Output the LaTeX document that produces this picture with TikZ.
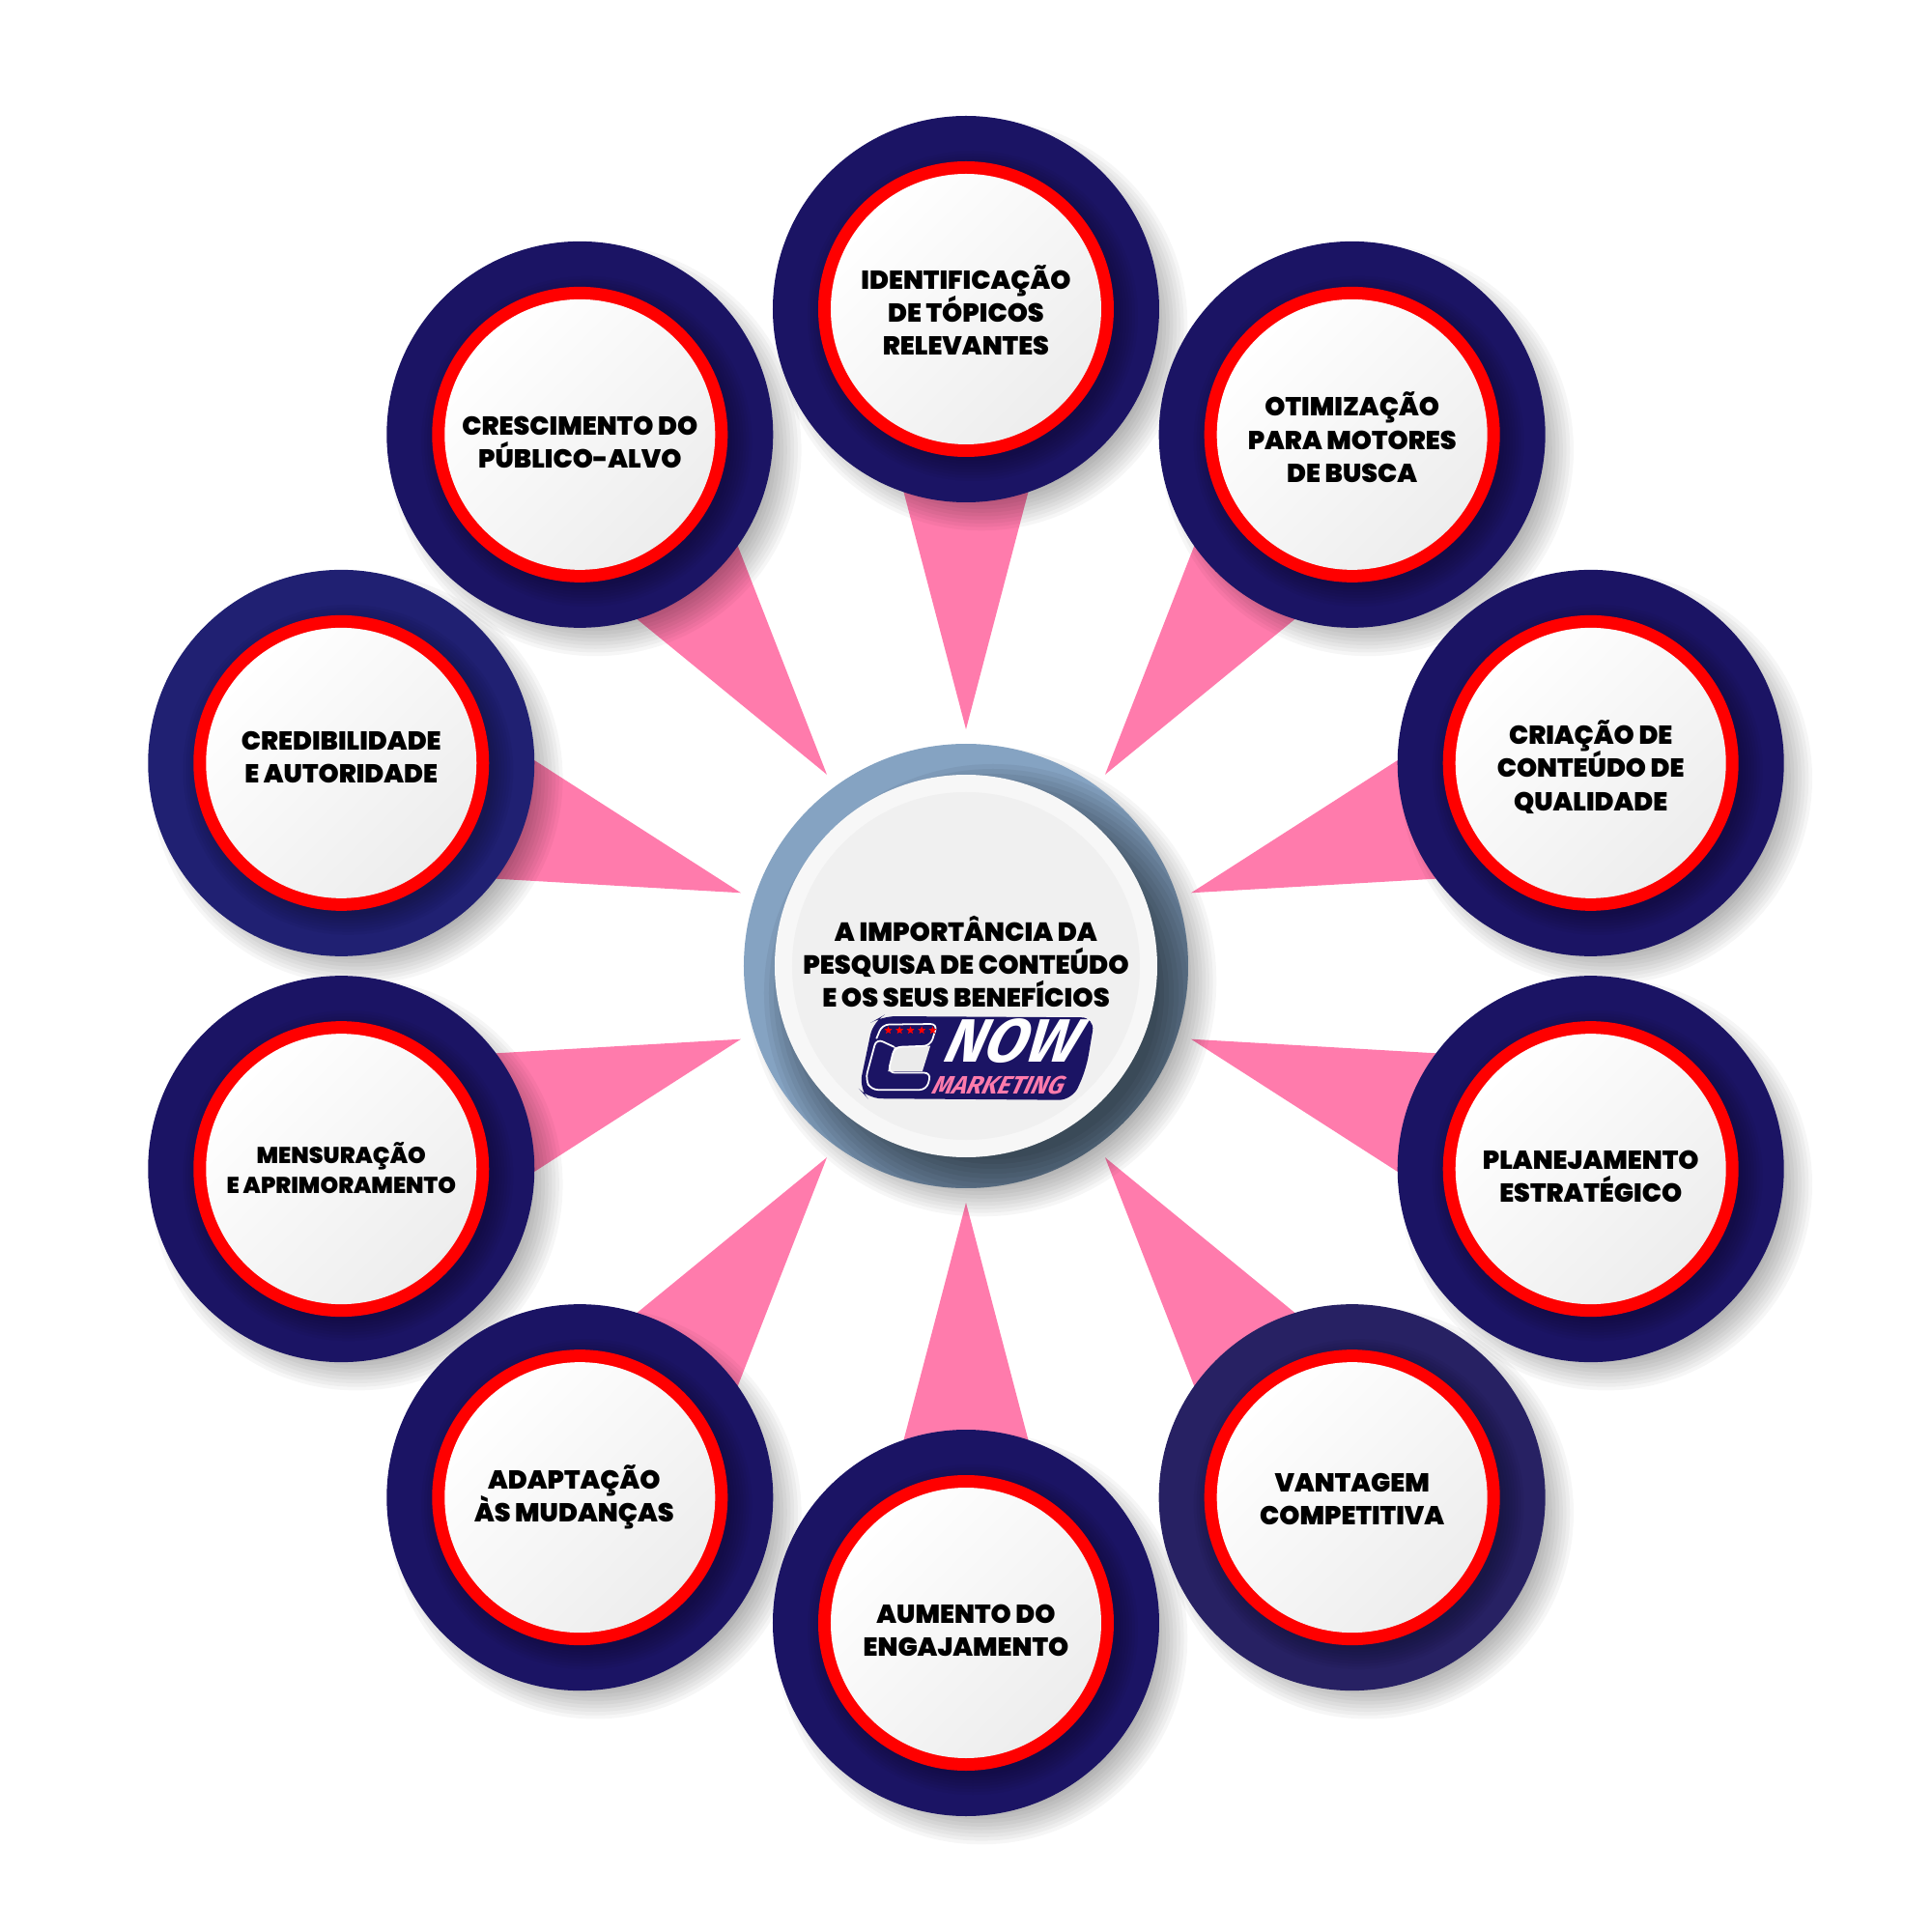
\documentclass[tikz,border=0pt]{standalone}
\usepackage{fontspec}
\setmainfont{Poppins Black}
\newfontfamily\logofont{Fira Sans}
\usetikzlibrary{shapes.geometric,calc}
\definecolor{navyblue}{HTML}{1B1464}
\definecolor{navybright}{HTML}{202072}
\definecolor{navydull}{HTML}{272163}
\definecolor{ringred}{HTML}{FF0000}
\definecolor{rosepink}{HTML}{FF7BAC}
\definecolor{steelblue}{HTML}{85A3C2}
\tikzset{
  outerdisc/.style={circle,inner sep=0pt,minimum size=4cm},
  ringdisc/.style={circle,inner sep=0pt,minimum size=3.06cm,fill=ringred},
  whitedisc/.style={circle,inner sep=0pt,minimum size=2.8cm,
    top color=white,bottom color=black!7,shading angle=45},
  labeltext/.style={align=center,inner sep=0pt,font=\fontsize{7.65}{9.75}\selectfont,
    execute at begin node={\lineskiplimit=-20pt}},
  softshadow/.style={black,opacity=0.035}
}
\begin{document}
\begin{tikzpicture}
\useasboundingbox (-10,-10) rectangle (10,10);

% pink wedges
\foreach \a in {90,54,18,-18,-54,-90,-126,-162,162,126}
  \fill [rosepink,rotate=\a] (2.45,0) -- (4.95,0.656) -- (4.95,-0.656) -- cycle;

% soft shadows
\foreach \a in {90,54,18,-18,-54,-90,-126,-162,162,126}
  \foreach \s in {0,...,9}
    \fill [softshadow] ($(\a:6.8)+(0.16,-0.16)$) circle ({1.8+0.037*\s});
\foreach \s in {0,...,9}
  \fill [softshadow] (0.16,-0.16) circle ({2.1+0.037*\s});

% outer circles
\foreach \a/\c/\n/\o/\t in {
  90/navyblue/tone/{0,-0.01}/{IDENTIFICAÇÃO\\DE TÓPICOS\\RELEVANTES},
  54/navyblue/ttwo/{0,-0.03}/{OTIMIZAÇÃO\\PARA MOTORES\\DE BUSCA},
  18/navyblue/tthree/{0,-0.04}/{CRIAÇÃO DE\\CONTEÚDO DE\\QUALIDADE},
  -18/navyblue/tfour/{0,-0.08}/{PLANEJAMENTO\\ESTRATÉGICO},
  -54/navydull/tfive/{0,-0.02}/{VANTAGEM\\COMPETITIVA},
  -90/navyblue/tsix/{0,-0.08}/{AUMENTO DO\\ENGAJAMENTO},
  -126/navyblue/tseven/{-0.06,0}/{ADAPTAÇÃO\\ÀS MUDANÇAS},
  -162/navyblue/teight/{0,0.01}/{\fontsize{6.75}{8.35}\selectfont MENSURAÇÃO\\[-1.1pt]\fontsize{6.75}{8.35}\selectfont E APRIMORAMENTO},
  162/navybright/tnine/{0,0.06}/{CREDIBILIDADE\\E AUTORIDADE},
  126/navyblue/tten/{0,-0.08}/{CRESCIMENTO DO\\PÚBLICO-ALVO}} {
  \node [outerdisc,fill=\c] (\n) at (\a:6.8) {};
  \foreach \s in {0,...,7}
    \fill [black,opacity=0.035] ($(\a:6.8)+(0.07,-0.07)$) circle ({1.5+0.03*\s});
  \node [ringdisc] (\n r) at (\n) {};
  \node [whitedisc] (\n w) at (\n) {};
  \node [labeltext] (\n t) at ($(\n)+(\o)$) {\t};
}

% centre
\node [outerdisc,minimum size=4.6cm,fill=steelblue] (hub) at (0,0) {};
\begin{scope}
  \clip (hub.center) circle (2.3);
  \foreach \s in {0,...,13}
    \fill [black,opacity=0.05] (0.28,-0.28) circle ({1.72+0.05*\s});
\end{scope}
\node [circle,inner sep=0pt,minimum size=3.96cm,fill=black!3] (hubrim) at (0,0) {};
\node [circle,inner sep=0pt,minimum size=3.6cm,fill=black!6] (hubface) at (0,0) {};
\node [labeltext,font=\fontsize{7.72}{9.75}\selectfont] (hubtext) at (0,0.045) {A IMPORTÂNCIA DA\\PESQUISA DE CONTEÚDO\\E OS SEUS BENEFÍCIOS};

% logo
\begin{scope}[shift={(-1.2,-0.4)},x=0.00333cm,y=-0.00333cm]
  \fill [navyblue,rounded corners=4pt] (72,52) -- (100,36) -- (762,40) -- (735,200) -- (692,297)
    -- (55,292) -- (28,262) -- cycle;
  \fill [white!92!black] (138,132) -- (250,128) -- (225,208) -- (118,208) -- cycle;
  \draw [white,line width=0.5pt,rounded corners=2pt] (82,106) -- (100,62) -- (272,60) -- (250,128)
    -- (138,132) -- (118,212) -- (252,212) -- (238,265) -- (65,265) -- (48,232) -- (82,106) -- (138,132);
  \foreach \x in {119,154,188,223,257}
    \node [star,star points=5,star point ratio=2.3,fill=ringred,inner sep=0pt,minimum size=0.085cm] (star\x) at (\x,80) {};
  \node [white,font=\logofont\bfseries\itshape\fontsize{18}{18}\selectfont,xslant=0.3,inner sep=0pt] (now) at (512,112) {NOW};
  \node [rosepink,font=\logofont\bfseries\itshape\fontsize{7.4}{7.4}\selectfont,xslant=0.3,inner sep=0pt] (mkt) at (465,252) {MARKETING};
\end{scope}
\end{tikzpicture}
\end{document}
